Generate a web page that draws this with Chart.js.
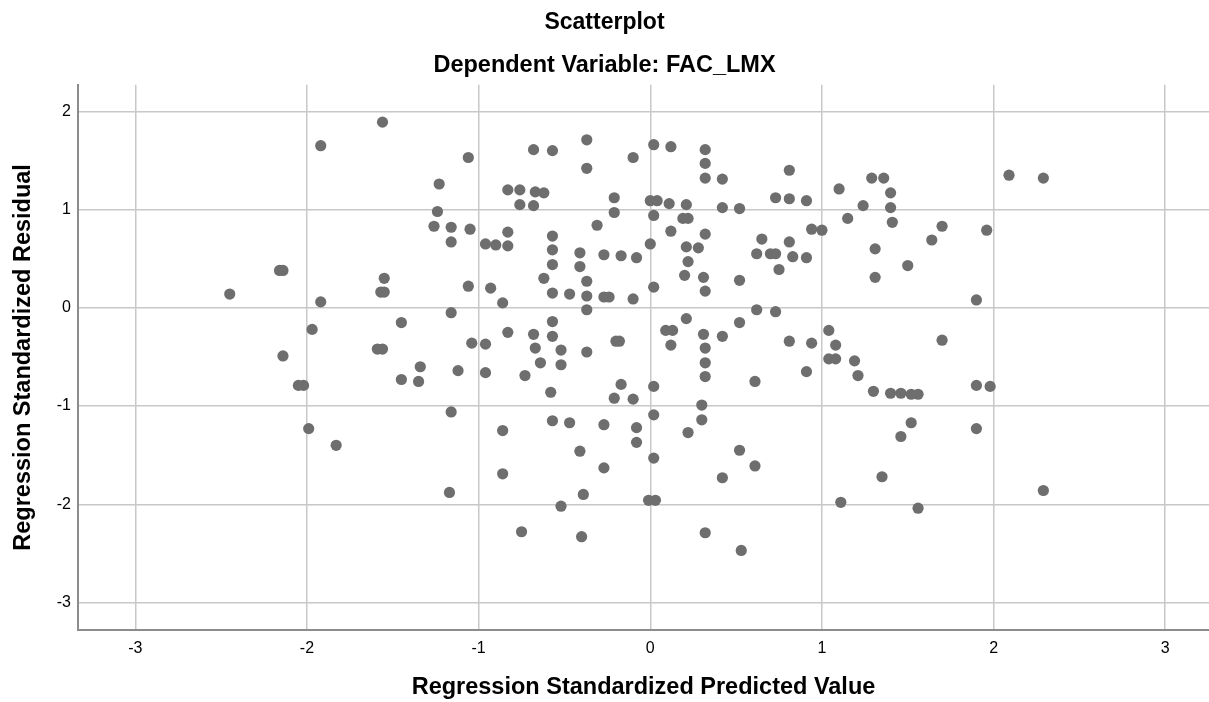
<!DOCTYPE html>
<html>
<head>
<meta charset="utf-8">
<script src="https://cdn.jsdelivr.net/npm/chart.js@4/dist/chart.umd.min.js"></script>
<style>
  html, body { margin: 0; padding: 0; background: #ffffff; }
  #wrap { width: 1209px; height: 702px; position: relative; }
</style>
</head>
<body>
<div id="wrap"><canvas id="c" width="1209" height="702"></canvas></div>
<script>
// Regression Standardized Predicted Value (x) and Regression Standardized Residual (y)
const predicted = [
  -1.56, -1.06, -1.23, -1.24, -1.26, -1.16, -1.16, -1.05, -1.55, -1.57,
  -1.55, -1.06, -0.93, -0.86, -1.16, -1.45, -1.59, -1.56, -1.04, -0.96,
  -0.83, -0.68, -0.57, -0.57, -0.67, -0.52, -0.37, -0.20, -0.18, -0.68,
  -0.57, -0.37, -0.37, -0.10, 0.02, -0.83, -0.76, -0.67, -0.62, -0.76,
  -0.68, -0.21, -0.21, -0.31, 0.02, 0.00, 0.02, -0.83, -0.83, -0.96,
  -0.90, -0.57, -0.57, -0.57, -0.62, -0.57, -0.47, -0.37, -0.37, -0.37,
  -0.41, -0.41, -0.27, -0.17, -0.08, -0.27, -0.24, -0.10,
  -1.92, -2.16, -2.14, -2.45, -1.92, -1.97, -2.14, -2.05, -2.02, -1.99, -1.83,
  -1.34, -1.45, -1.35, -1.12, -0.96, -0.73, -0.64, -0.52, -0.58, -0.17,
  -0.21, -0.10, 0.02, -1.16, -0.86, -0.57, -0.47, -0.27, -0.08, -0.08,
  0.02, 0.02, -0.41, -0.27, -0.86, -1.17, -0.39, -0.52, -0.01, 0.03,
  -0.75, -0.40,
  0.12, 0.32, 0.32, 0.32, 0.42, 0.81, 0.73, 0.81, 0.91, 0.00,
  0.04, 0.11, 0.21, 0.42, 0.52, 0.19, 0.22, 0.12, 0.32, 0.21,
  0.28, 0.22, 0.20, 0.31, 0.32, 0.52, 0.65, 0.62, 0.70, 0.73,
  0.75, 0.81, 0.83, 0.91, 0.94, 1.00, 1.10, 1.29, 1.36, 1.40,
  1.40, 1.41, 1.24, 1.15, 1.31, 1.31, 1.50, 1.64, 1.70, 0.62,
  0.73, 0.21, 0.52, 0.09, 0.13, 0.12, 0.31, 0.32, 0.32, 0.42,
  0.81, 0.94, 1.04, 1.08, 1.04, 1.08, 1.19, 1.70, 0.91,
  0.32, 0.61, 1.21, 1.30, 1.40, 1.46, 1.52, 1.56, 0.30, 0.30,
  0.22, 0.52, 0.61, 0.42, 0.32, 0.53, 1.52, 1.46, 1.35, 1.11, 1.56,
  2.09, 2.29, 1.96, 1.90, 1.90, 1.98, 1.90, 2.29
];
const residual = [
  1.89, 1.53, 1.26, 0.98, 0.83, 0.82, 0.67, 0.80, 0.30, 0.16,
  0.16, 0.22, 0.20, 0.05, -0.05, -0.15, -0.42, -0.42, -0.36, -0.37,
  -0.25, -0.27, -0.14, -0.29, -0.41, -0.43, -0.45, -0.34, -0.34, 1.61,
  1.60, 1.71, 1.42, 1.53, 1.66, 1.20, 1.20, 1.18, 1.17, 1.05,
  1.04, 1.12, 0.97, 0.84, 0.94, 0.65, 0.21, 0.77, 0.63, 0.65,
  0.64, 0.73, 0.59, 0.44, 0.30, 0.15, 0.14, 0.27, 0.12, -0.02,
  0.56, 0.42, 0.54, 0.53, 0.51, 0.11, 0.11, 0.09,
  1.65, 0.38, 0.38, 0.14, 0.06, -0.22, -0.49, -0.79, -0.79, -1.23, -1.40,
  -0.60, -0.73, -0.75, -0.64, -0.66, -0.69, -0.56, -0.58, -0.86, -0.78,
  -0.92, -0.93, -0.80, -1.06, -1.25, -1.15, -1.17, -1.19, -1.22, -1.37,
  -1.09, -1.53, -1.46, -1.63, -1.69, -1.88, -1.90, -2.02, -1.96, -1.96,
  -2.28, -2.33,
  1.64, 1.61, 1.47, 1.32, 1.31, 1.40, 1.12, 1.11, 1.09, 1.09,
  1.09, 1.06, 1.05, 1.02, 1.01, 0.91, 0.91, 0.78, 0.75, 0.62,
  0.61, 0.47, 0.33, 0.31, 0.17, 0.28, 0.70, 0.55, 0.55, 0.55,
  0.39, 0.67, 0.52, 0.51, 0.80, 0.79, 1.21, 1.32, 1.32, 1.17,
  1.02, 0.87, 1.04, 0.91, 0.60, 0.31, 0.43, 0.69, 0.83, -0.02,
  -0.04, -0.11, -0.15, -0.23, -0.23, -0.38, -0.27, -0.41, -0.56, -0.29,
  -0.34, -0.36, -0.23, -0.38, -0.52, -0.52, -0.54, -0.33, -0.65,
  -0.70, -0.75, -0.69, -0.85, -0.87, -0.87, -0.88, -0.88, -0.99, -1.14,
  -1.27, -1.45, -1.61, -1.73, -2.29, -2.47, -1.17, -1.31, -1.72, -1.98, -2.04,
  1.35, 1.32, 0.79, 0.08, -0.79, -0.80, -1.23, -1.86
];
const xTicks = [-3, -2, -1, 0, 1, 2, 3];
const yTicks = [-3, -2, -1, 0, 1, 2];
const xRange = [-3.334, 3.255];
const yRange = [-3.28, 2.27];

const points = predicted.map((x, i) => ({ x: x, y: residual[i] }));
const FONT = "'Liberation Sans', Arial, sans-serif";

new Chart(document.getElementById('c'), {
  type: 'scatter',
  data: {
    datasets: [{
      data: points,
      backgroundColor: '#6e6e6e',
      borderColor: '#6e6e6e',
      borderWidth: 0,
      pointRadius: 5.6,
      pointHoverRadius: 5.6
    }]
  },
  options: {
    responsive: false,
    animation: false,
    devicePixelRatio: 1,
    layout: { autoPadding: false, padding: { left: 0, right: 0, top: 0, bottom: 0 } },
    plugins: {
      legend: { display: false },
      tooltip: { enabled: false },
      title: {
        display: true,
        text: 'Scatterplot',
        color: '#000000',
        font: { family: FONT, size: 23, weight: 'bold' },
        padding: { top: 9, bottom: 15 }
      },
      subtitle: {
        display: true,
        text: 'Dependent Variable: FAC_LMX',
        color: '#000000',
        font: { family: FONT, size: 23.5, weight: 'bold' },
        padding: { top: 0, bottom: 5 }
      }
    },
    scales: {
      x: {
        type: 'linear',
        min: xRange[0],
        max: xRange[1],
        afterBuildTicks: s => { s.ticks = xTicks.map(v => ({ value: v })); },
        afterFit: s => { s.height = 72; },
        grid: { color: '#c8c8c8', lineWidth: 1.5, drawTicks: false },
        border: { display: true, color: '#8c8c8c', width: 2 },
        ticks: {
          color: '#000000',
          padding: 9,
          font: { family: FONT, size: 16 },
          callback: v => String(v)
        },
        title: {
          display: true,
          text: 'Regression Standardized Predicted Value',
          color: '#000000',
          font: { family: FONT, size: 23.5, weight: 'bold' },
          padding: { top: 0, bottom: 0 }
        }
      },
      y: {
        type: 'linear',
        min: yRange[0],
        max: yRange[1],
        afterBuildTicks: s => { s.ticks = yTicks.map(v => ({ value: v })); },
        afterFit: s => { s.width = 78; },
        grid: { color: '#c8c8c8', lineWidth: 1.5, drawTicks: false },
        border: { display: true, color: '#8c8c8c', width: 2 },
        ticks: {
          color: '#000000',
          padding: 7,
          font: { family: FONT, size: 16 },
          callback: v => String(v)
        },
        title: {
          display: true,
          text: 'Regression Standardized Residual',
          color: '#000000',
          font: { family: FONT, size: 23.5, weight: 'bold' },
          padding: { top: 9, bottom: 0 }
        }
      }
    }
  }
});
</script>
</body>
</html>
